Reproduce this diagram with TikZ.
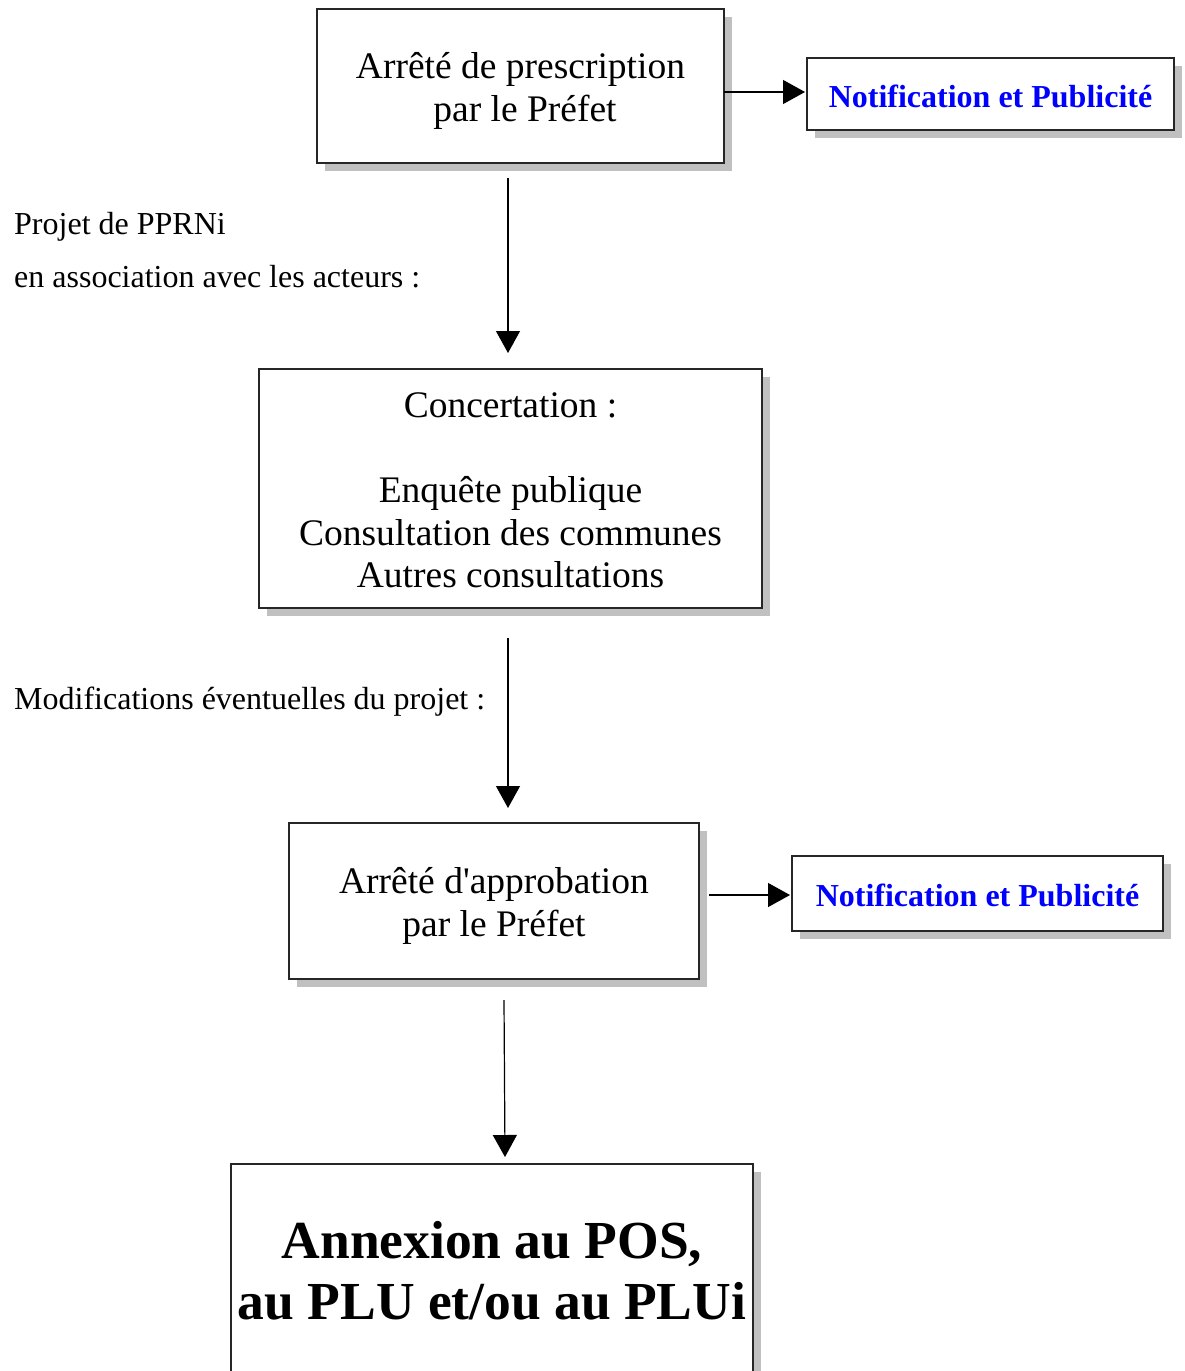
\documentclass[tikz,border=0pt]{standalone}
\usepackage{fontspec}
\setmainfont{Liberation Serif}[Ligatures=TeXOff]
\usetikzlibrary{arrows.meta,shadows}
\definecolor{shadowgray}{HTML}{C0C0C0}
\definecolor{notifblue}{HTML}{0000FF}
\begin{document}
\begin{tikzpicture}[x=1pt,y=-1pt,
  boxstyle/.style={draw=black!85, line width=1.3pt, fill=white, inner sep=0pt, outer sep=0pt,
    general shadow={fill=shadowgray, shadow xshift=8pt, shadow yshift=-8pt}},
  txt/.style={inner sep=0pt, align=center, font=\fontsize{37.5}{42.5}\selectfont},
  notiftxt/.style={txt, text=notifblue, font=\fontsize{32}{36}\selectfont\bfseries},
  bigtxt/.style={txt, font=\fontsize{53.5}{61}\selectfont\bfseries},
  lbl/.style={anchor=base west, inner sep=0pt, font=\fontsize{32}{36}\selectfont},
  arr/.style={draw=black, line width=1.2pt, -{Triangle[length=22pt,width=24pt]}}]
\path[use as bounding box] (0,0) rectangle (1184,1371);
\clip (0,0) rectangle (1184,1371);
\fill[white] (0,0) rectangle (1184,1371);

\node[boxstyle, minimum width=407pt, minimum height=154pt] (b1) at (520.5,86) {};
\node[txt] (t1) at ([yshift=-5pt]b1.center) {Arrêté de prescription\\\hspace*{9pt}par le Préfet};
\node[boxstyle, minimum width=367pt, minimum height=72pt] (n1) at (990.5,94) {};
\node[notiftxt] (tn1) at ([yshift=-2pt]n1.center) {Notification et Publicité};
\node[boxstyle, minimum width=503pt, minimum height=239pt] (b2) at (510.5,488.5) {};
\node[txt] (t2) at ([yshift=-2pt]b2.center)
  {Concertation :\\[42.5pt]Enquête publique\\Consultation des communes\\Autres consultations};
\node[boxstyle, minimum width=410pt, minimum height=156pt] (b3) at (494,901) {};
\node[txt] (t3) at ([yshift=-5pt]b3.center) {Arrêté d'approbation\\par le Préfet};
\node[boxstyle, minimum width=371pt, minimum height=75pt] (n2) at (977.5,893.5) {};
\node[notiftxt] (tn2) at ([yshift=-2pt]n2.center) {Notification et Publicité};
\node[boxstyle, minimum width=522pt, minimum height=222pt] (b4) at (492,1275) {};
\node[bigtxt] (t4) at ([yshift=4pt]b4.center) {Annexion au POS,\\au PLU et/ou au PLUi};

\node[lbl] (l1) at (14,234) {Projet de PPRNi};
\node[lbl] (l2) at (14,287) {en association avec les acteurs :};
\node[lbl] (l3) at (14,709) {Modifications éventuelles du projet :};

\draw[arr] ([yshift=-6pt]b1.east) -- ([xshift=-2pt,yshift=2pt]n1.west);
\draw[arr] ([xshift=-12.5pt,yshift=-15pt]b1.south) -- ([xshift=-2.5pt,yshift=16pt]b2.north);
\draw[arr] ([xshift=-2.5pt,yshift=-30pt]b2.south) -- ([xshift=14pt,yshift=15pt]b3.north);
\draw[arr] ([xshift=10pt,yshift=6pt]b3.east) -- ([xshift=-2pt,yshift=-1.5pt]n2.west);
\draw[arr] ([xshift=10pt,yshift=-21pt]b3.south) -- ([xshift=13pt,yshift=7pt]b4.north);
\end{tikzpicture}
\end{document}
